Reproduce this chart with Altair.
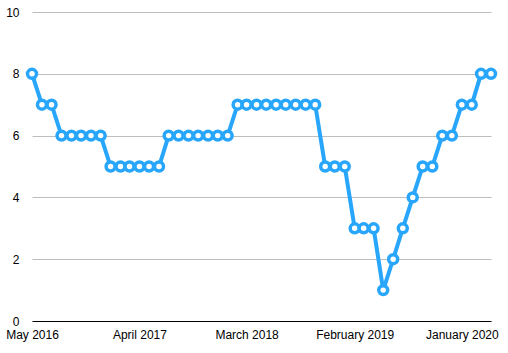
import altair as alt
import pandas as pd

months = pd.date_range("2016-05-01", "2020-04-01", freq="MS").strftime("%Y-%m-%d").tolist()
values = [8, 7, 7, 6, 6, 6, 6, 6, 5, 5, 5, 5, 5, 5, 6, 6, 6, 6, 6, 6, 6,
          7, 7, 7, 7, 7, 7, 7, 7, 7, 5, 5, 5, 3, 3, 3, 1, 2, 3, 4, 5, 5, 6, 6, 7, 7, 8, 8]
tick_dates = ["2016-05-01", "2017-04-01", "2018-03-01", "2019-02-01", "2020-01-01"]
y_ticks = [0, 2, 4, 6, 8, 10]

df = pd.DataFrame({"month": months, "value": values})
color = "#28A6FB"

x = alt.X("month:T",
          scale=alt.Scale(domain=[months[0], months[-1]], nice=False),
          axis=alt.Axis(title=None, values=tick_dates, format="%B %Y", grid=False,
                        ticks=False, domainColor="#000000", domainWidth=1,
                        labelPadding=8, labelFontSize=12, labelColor="#000000",
                        labelFont="Liberation Sans", labelAngle=0,
                        labelFlush=False, labelOverlap=False, labelBound=False))
y = alt.Y("value:Q",
          scale=alt.Scale(domain=[0, 10], nice=False),
          axis=alt.Axis(title=None, values=y_ticks, grid=True, gridColor="#bdbdbd",
                        gridWidth=1, domain=False, ticks=False, labelPadding=13,
                        labelFontSize=12, labelColor="#000000",
                        labelFont="Liberation Sans"))

line = alt.Chart(df).mark_line(color=color, strokeWidth=4, clip=False).encode(x=x, y=y)
pts = alt.Chart(df).mark_point(shape="circle", filled=True, fill="white", stroke=color,
                               strokeWidth=3.5, size=80, opacity=1, clip=False).encode(x=x, y=y)

chart = (line + pts).properties(
    width=459, height=309,
    background="white",
    autosize=alt.AutoSizeParams(type="none"),
    padding={"left": 32, "top": 12, "right": 17, "bottom": 32},
).configure_view(strokeWidth=0, stroke="transparent")

chart.save("out.html", embed_options={"renderer": "svg", "actions": False})
